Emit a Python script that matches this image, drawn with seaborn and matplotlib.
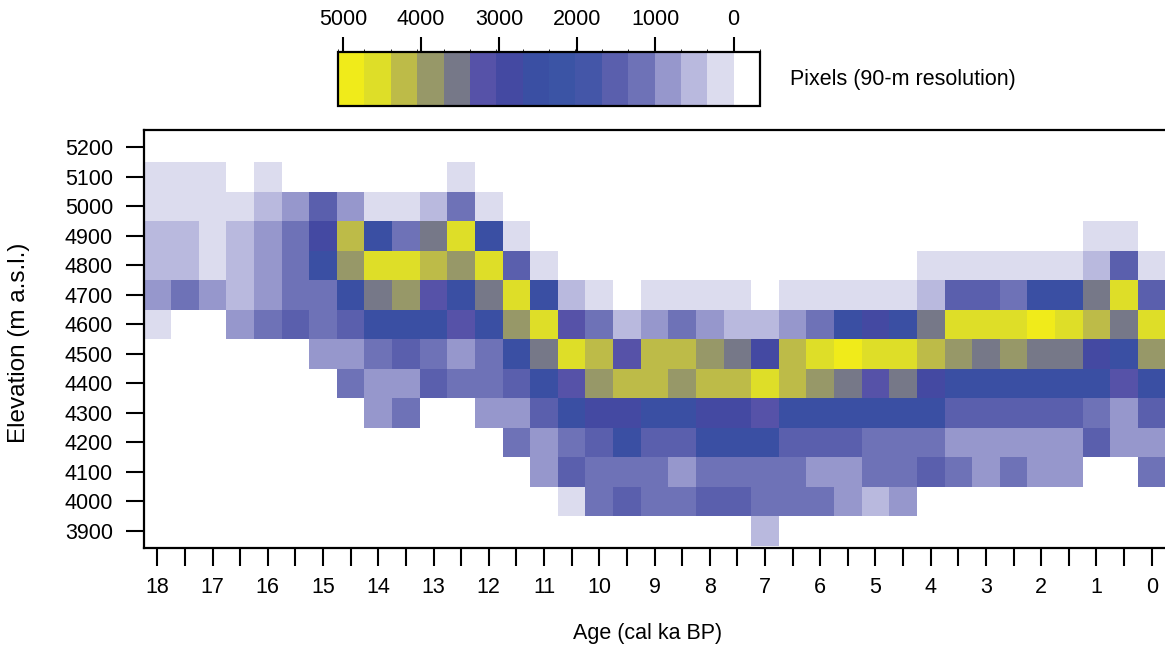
import numpy as np
import pandas as pd
import matplotlib
matplotlib.use("Agg")
import matplotlib.pyplot as plt
from matplotlib.colors import ListedColormap, BoundaryNorm
from matplotlib.cm import ScalarMappable
import seaborn as sns

# ---------------- data ----------------
ages = [18, 17.5, 17, 16.5, 16, 15.5, 15, 14.5, 14, 13.5, 13, 12.5, 12, 11.5,
        11, 10.5, 10, 9.5, 9, 8.5, 8, 7.5, 7, 6.5, 6, 5.5, 5, 4.5, 4, 3.5,
        3, 2.5, 2, 1.5, 1, 0.5, 0]
elevations = [5100, 5000, 4900, 4800, 4700, 4600, 4500, 4400, 4300, 4200,
              4100, 4000, 3900]

# pixel counts per age bin (columns follow `ages`)
e5100 = [170, 170, 170, 0, 170, 0, 0, 0, 0, 0, 0, 170] + [0] * 25
e5000 = [170, 170, 170, 170, 500, 840, 1520, 840, 170, 170, 500, 1180, 170] + [0] * 24
e4900 = [500, 500, 170, 500, 840, 1180, 2870, 4220, 2530, 1180, 3540, 4550, 2530, 170] \
    + [0] * 20 + [170, 170, 0]
e4800 = [500, 500, 170, 500, 840, 1180, 2530, 3880, 4550, 4550, 4220, 3880, 4550, 1520, 170] \
    + [0] * 13 + [170, 170, 170, 170, 170, 170, 500, 1520, 170]
e4700 = [840, 1180, 840, 500, 840, 1180, 1180, 2530, 3540, 3880, 3200, 2530, 3540, 4550,
         2530, 500, 170, 0, 170, 170, 170, 170, 0, 170, 170, 170, 170, 170, 500, 1520,
         1520, 1180, 2530, 2530, 3540, 4550, 1520]
e4600 = [170, 0, 0, 840, 1180, 1520, 1180, 1520, 2530, 2530, 2530, 3200, 2530, 3880,
         4550, 3200, 1180, 500, 840, 1180, 840, 500, 500, 840, 1180, 2530, 2870, 2530,
         3540, 4550, 4550, 4550, 4890, 4550, 4220, 3540, 4550]
e4500 = [0, 0, 0, 0, 0, 0, 840, 840, 1180, 1520, 1180, 840, 1180, 2530, 3540, 4550,
         4220, 3200, 4220, 4220, 3880, 3540, 2870, 4220, 4550, 4890, 4550, 4550, 4220,
         3880, 3540, 3880, 3540, 3540, 2870, 2530, 3880]
e4400 = [0, 0, 0, 0, 0, 0, 0, 1180, 840, 840, 1520, 1180, 1180, 1520, 2530, 3200,
         3880, 4220, 4220, 3880, 4220, 4220, 4550, 4220, 3880, 3540, 3200, 3540, 2870,
         2530, 2530, 2530, 2530, 2530, 2530, 3200, 2530]
e4300 = [0, 0, 0, 0, 0, 0, 0, 0, 840, 1180, 0, 0, 840, 840, 1520, 2530, 2870, 2870,
         2530, 2530, 2870, 2870, 3200, 2530, 2530, 2530, 2530, 2530, 2530, 1520, 1520,
         1520, 1520, 1520, 1180, 840, 1520]
e4200 = [0] * 13 + [1180, 840, 1180, 1520, 2530, 1520, 1520, 2530, 2530, 2530, 1520,
                    1520, 1520, 1180, 1180, 1180, 840, 840, 840, 840, 840, 1520, 840, 840]
e4100 = [0] * 14 + [840, 1520, 1180, 1180, 1180, 840, 1180, 1180, 1180, 1180, 840, 840,
                    1180, 1180, 1520, 1180, 840, 1180, 840, 840, 0, 0, 1180]
e4000 = [0] * 15 + [170, 1180, 1520, 1180, 1180, 1520, 1520, 1180, 1180, 1180, 840, 500,
                    840] + [0] * 9
e3900 = [0] * 22 + [500] + [0] * 14

bin_edges = [-337.5, 0, 337.5, 675, 1012.5, 1350, 1687.5, 2025, 2362.5, 2700,
             3037.5, 3375, 3712.5, 4050, 4387.5, 4725, 5062.5]
bin_colors = ["#FFFFFF", "#DCDCEE", "#B9B9DE", "#9697CC", "#6E72B7", "#5A5FAD",
              "#4456A8", "#3B54A5", "#3A4FA3", "#4449A2", "#5652A8", "#767888",
              "#979868", "#BDBB48", "#DEDE28", "#F0EB1A"]
cbar_ticks = [5000, 4000, 3000, 2000, 1000, 0]
age_labels = ["18", "", "17", "", "16", "", "15", "", "14", "", "13", "", "12", "",
              "11", "", "10", "", "9", "", "8", "", "7", "", "6", "", "5", "", "4",
              "", "3", "", "2", "", "1", "", "0"]
elev_ticks = [5200, 5100, 5000, 4900, 4800, 4700, 4600, 4500, 4400, 4300, 4200,
              4100, 4000, 3900]

# ---------------- style ----------------
sns.set_style("ticks")
plt.rcParams["font.family"] = ["Liberation Sans", "DejaVu Sans"]
plt.rcParams["axes.edgecolor"] = "black"
plt.rcParams["text.color"] = "black"
plt.rcParams["xtick.color"] = "black"
plt.rcParams["ytick.color"] = "black"

FS = 15.5
W, H = 1165, 650
fig = plt.figure(figsize=(W / 100, H / 100), dpi=100)

df = pd.DataFrame([e5100, e5000, e4900, e4800, e4700, e4600, e4500, e4400, e4300,
                   e4200, e4100, e4000, e3900], index=elevations, columns=ages)

cmap = ListedColormap(bin_colors)
norm = BoundaryNorm(bin_edges, cmap.N)

ax = fig.add_axes([143.5 / W, (H - 548) / H, (1165.5 - 143.5) / W, (548 - 130) / H])
sns.heatmap(df, ax=ax, cmap=cmap, norm=norm, cbar=False, mask=(df == 0),
            xticklabels=False, yticklabels=False, linewidths=0)

ax.set_xlim(0, len(ages))
ax.set_ylim(len(elevations) + 0.08, -1.09)
ax.set_xticks(np.arange(len(ages)) + 0.5)
ax.set_xticklabels(age_labels)
step = elevations[0] - elevations[1]
ax.set_yticks([(elevations[0] - e) / step + 0.5 for e in elev_ticks])
ax.set_yticklabels([str(e) for e in elev_ticks])
ax.set_xlabel("")
ax.set_ylabel("")
for name, sp in ax.spines.items():
    sp.set_visible(name != "right")
    sp.set_linewidth(1.6)
    sp.set_color("black")
ax.tick_params(axis="x", bottom=True, length=13, width=1.5, pad=8, labelsize=FS,
               direction="out", colors="black")
ax.tick_params(axis="y", left=True, length=13, width=1.5, pad=9, labelsize=FS,
               direction="out", colors="black")
for t in ax.get_yticklabels() + ax.get_xticklabels():
    t.set_rotation(0)

fig.text(648 / W, 1 - 633 / H, "Age (cal ka BP)", ha="center", va="center", fontsize=FS)
fig.text(19 / W, 1 - 343 / H, "Elevation (m a.s.l.)", rotation=90, ha="center",
         va="center", fontsize=17.5)

# ---------------- colour scale ----------------
cax = fig.add_axes([338 / W, 1 - 106 / H, (760 - 338) / W, (106 - 52) / H])
sm = ScalarMappable(norm=norm, cmap=cmap)
cb = fig.colorbar(sm, cax=cax, orientation="horizontal", boundaries=bin_edges,
                  ticks=cbar_ticks, spacing="proportional")
cb.outline.set_linewidth(1.6)
cb.outline.set_edgecolor("black")
cax.invert_xaxis()
cax.xaxis.set_ticks_position("top")
cax.xaxis.set_label_position("top")
cax.tick_params(axis="x", length=11, width=1.5, pad=5, labelsize=FS, colors="black")
cb.set_ticklabels([str(t) for t in cbar_ticks])

fig.text(790 / W, 1 - 80 / H, "Pixels (90-m resolution)", ha="left", va="center",
         fontsize=FS)

fig.savefig("out.png", dpi=100)
